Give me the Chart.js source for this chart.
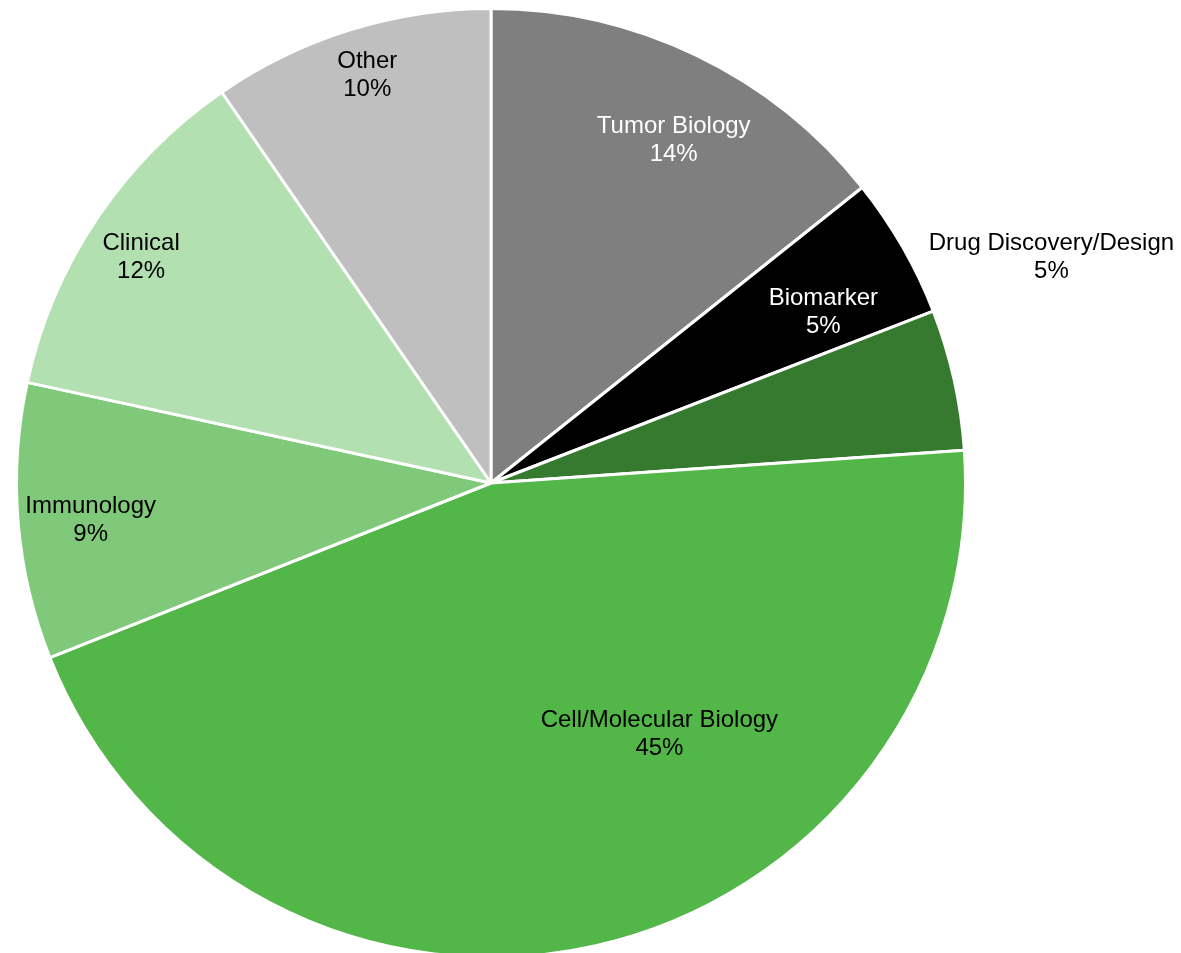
<!DOCTYPE html>
<html>
<head>
<meta charset="utf-8">
<script src="https://cdn.jsdelivr.net/npm/chart.js@4"></script>
<style>
  html, body { margin: 0; padding: 0; background: #fff; overflow: hidden; }
  canvas { display: block; }
</style>
</head>
<body>
<canvas id="pie" width="1181" height="960"></canvas>
<script>
// Dados
const categorias = ['Tumor Biology', 'Biomarker', 'Drug Discovery/Design', 'Cell/Molecular Biology', 'Immunology', 'Clinical', 'Other'];
const valores = [14.3, 4.8, 4.8, 45.1, 9.4, 12.0, 9.6];
const rotulos = ['14%', '5%', '5%', '45%', '9%', '12%', '10%'];

const cores = ['#7f7f7f', '#000000', '#357a2f', '#52b748', '#80c97a', '#b3e0b0', '#bfbfbf'];
const corTexto = ['#ffffff', '#ffffff', '#000000', '#000000', '#000000', '#000000', '#000000'];
// posição dos rótulos: [fração do raio, ângulo em graus a partir do topo]
const posRotulos = [[0.82, 28.1], [0.79, 62.8], [1.277, 68.1], [0.64, 146.2], [0.85, 264.7], [0.88, 302.8], [0.90, 343.1]];

const rotulosPlugin = {
    id: 'rotulos',
    afterDatasetsDraw(chart) {
        const ctx = chart.ctx;
        const arcs = chart.getDatasetMeta(0).data;
        ctx.save();
        ctx.font = '24px "Liberation Sans", Arial, sans-serif';
        ctx.textAlign = 'center';
        ctx.textBaseline = 'middle';
        arcs.forEach((arc, i) => {
            const p = posRotulos[i];
            const ang = (p[1] - 90) * Math.PI / 180;
            const r = (arc.outerRadius - 1.5) * p[0];
            const x = arc.x + Math.cos(ang) * r;
            const y = arc.y + Math.sin(ang) * r;
            ctx.fillStyle = corTexto[i];
            ctx.fillText(categorias[i], x, y - 14);
            ctx.fillText(rotulos[i], x, y + 14);
        });
        ctx.restore();
    }
};

const ctx = document.getElementById('pie').getContext('2d');
const chart = new Chart(ctx, {
    type: 'pie',
    data: {
        labels: categorias,
        datasets: [{
            data: valores,
            backgroundColor: cores,
            borderColor: '#ffffff',
            borderWidth: 3
        }]
    },
    options: {
        responsive: false,
        animation: false,
        devicePixelRatio: 1,
        layout: { padding: { left: 15, right: 214, top: 7, bottom: 1 } },
        plugins: {
            legend: { display: false },
            tooltip: { enabled: false }
        }
    },
    plugins: [rotulosPlugin]
});
</script>
</body>
</html>
